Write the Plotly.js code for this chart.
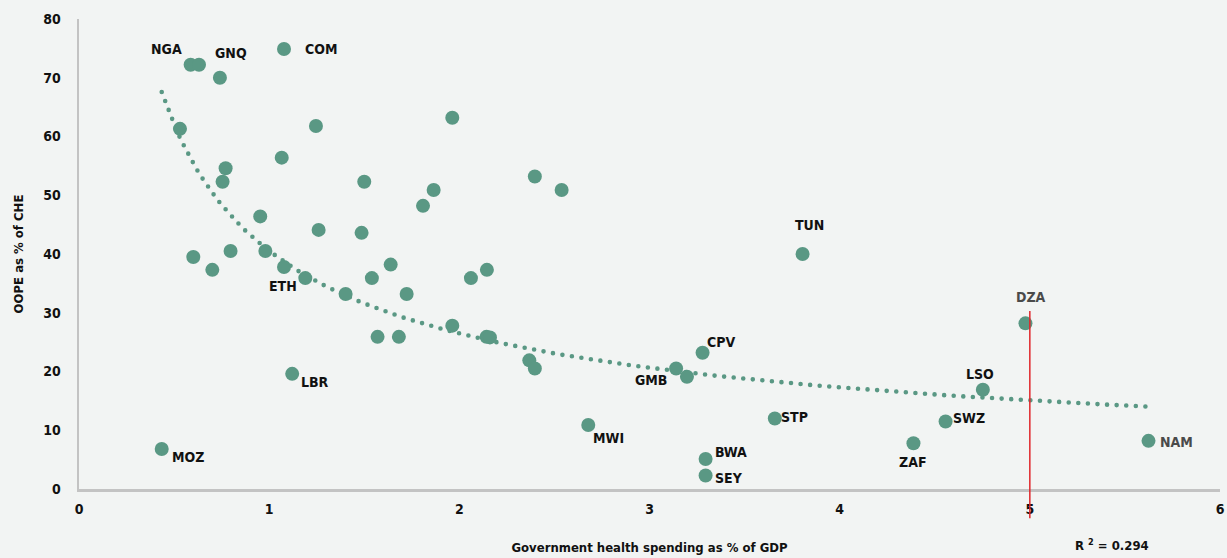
<!DOCTYPE html>
<html>
<head>
<meta charset="utf-8">
<script src="https://cdn.plot.ly/plotly-3.0.1.min.js"></script>
<style>
  html, body { margin: 0; padding: 0; background: #f2f4f3; }
  #chart { width: 1227px; height: 558px; }
</style>
</head>
<body>
<div id="chart"></div>
<script>
// Country codes (empty string = point drawn without a label)
const countries = [
  "NGA", "GNQ", "COM", "ETH", "LBR", "MOZ", "MWI", "STP", "BWA", "SEY",
  "CPV", "GMB", "TUN", "DZA", "LSO", "SWZ", "ZAF", "NAM",
  "", "", "", "", "", "", "", "", "", "", "", "", "", "", "", "", "",
  "", "", "", "", "", "", "", "", "", "", "", "", "", "", "", "", ""
];
// Government health spending as % of GDP
const govHealthSpending = [
  0.587, 0.741, 1.078, 1.078, 1.121, 0.435, 2.678, 3.659, 3.295, 3.295,
  3.279, 3.140, 3.805, 4.977, 4.753, 4.557, 4.388, 5.624,
  0.631, 0.531, 1.246, 1.963, 1.066, 0.771, 0.755, 1.500, 2.397, 2.538,
  1.865, 1.809, 0.953, 1.260, 1.486, 0.601, 0.701, 0.797, 0.980, 1.190,
  1.402, 1.540, 1.639, 1.723, 2.061, 2.145, 1.570, 1.682, 1.963, 2.143,
  2.161, 2.368, 2.397, 3.197
];
// Out-of-pocket expenditure as % of current health expenditure
const oopeShare = [
  72.2, 70.0, 74.9, 37.8, 19.6, 6.8, 10.9, 12.0, 5.1, 2.3,
  23.2, 20.5, 40.0, 28.2, 16.9, 11.5, 7.8, 8.2,
  72.2, 61.3, 61.8, 63.2, 56.4, 54.6, 52.3, 52.3, 53.2, 50.9,
  50.9, 48.2, 46.4, 44.1, 43.6, 39.5, 37.3, 40.5, 40.5, 35.9,
  33.2, 35.9, 38.2, 33.2, 35.9, 37.3, 25.9, 25.9, 27.8, 25.9,
  25.8, 21.9, 20.5, 19.1
];
const xTicks = [0, 1, 2, 3, 4, 5, 6];
const yTicks = [0, 10, 20, 30, 40, 50, 60, 70, 80];
const rSquaredText = "R <sup>2</sup> = 0.294";
const markerCountry = "DZA";

// Label placement around each marker, in pixels (dx right, dy up)
const labelOffsets = {
  NGA: [-24, 16], GNQ: [11, 25], COM: [37, 0], ETH: [-1, -19],
  LBR: [23, -8], MOZ: [26, -8], MWI: [20, -13], STP: [20, 2],
  BWA: [25, 7], SEY: [23, -3], CPV: [18, 11], GMB: [-25, -11],
  TUN: [7, 29], DZA: [6, 26], LSO: [-3, 16], SWZ: [23, 3],
  ZAF: [0, -19], NAM: [28, -1]
};
const greyLabels = { DZA: true, NAM: true };

// Power-law trendline (least squares on log-log values)
function powerFit(xs, ys) {
  const lx = xs.map(Math.log), ly = ys.map(Math.log);
  const n = lx.length;
  const mx = lx.reduce((a, b) => a + b, 0) / n;
  const my = ly.reduce((a, b) => a + b, 0) / n;
  let sxy = 0, sxx = 0;
  for (let i = 0; i < n; i++) { sxy += (lx[i] - mx) * (ly[i] - my); sxx += (lx[i] - mx) ** 2; }
  const b = sxy / sxx;
  const a = Math.exp(my - b * mx);
  return { a, b };
}
const fit = powerFit(govHealthSpending, oopeShare);
const xMin = Math.min(...govHealthSpending), xMax = Math.max(...govHealthSpending);
const trendX = [], trendY = [];
for (let i = 0; i <= 200; i++) {
  const xv = xMin + (xMax - xMin) * i / 200;
  trendX.push(xv);
  trendY.push(fit.a * Math.pow(xv, fit.b));
}

const FONT = "Liberation Sans Narrow, DejaVu Sans Condensed, Arial Narrow, sans-serif";
const TEAL = "#5a9884";

const traces = [
  {
    x: trendX, y: trendY, type: "scatter", mode: "lines",
    line: { color: TEAL, width: 4.6 }, hoverinfo: "skip", showlegend: false
  },
  {
    x: govHealthSpending, y: oopeShare, type: "scatter", mode: "markers",
    marker: { color: TEAL, size: 14, line: { width: 0 } }, hoverinfo: "skip", showlegend: false
  }
];

const annotations = [];
countries.forEach((c, i) => {
  if (!c) return;
  const off = labelOffsets[c] || [0, 0];
  annotations.push({
    x: govHealthSpending[i], y: oopeShare[i], xref: "x", yref: "y",
    text: c, showarrow: false, xanchor: "center", yanchor: "middle",
    xshift: off[0], yshift: off[1],
    font: { family: FONT, size: 14, weight: 700, color: greyLabels[c] ? "#4a4a4a" : "#111111" }
  });
});
annotations.push({
  x: 0.905, y: -0.12, xref: "paper", yref: "paper", text: rSquaredText,
  showarrow: false, xanchor: "center", yanchor: "middle",
  font: { family: FONT, size: 13, weight: 700, color: "#111111" }
});

const markerIdx = countries.indexOf(markerCountry);
const shapes = [{
  type: "line", xref: "x", yref: "paper",
  x0: govHealthSpending[markerIdx] + 0.023, x1: govHealthSpending[markerIdx] + 0.023,
  y0: -0.062, y1: 30.3 / 80,
  line: { color: "#e0262b", width: 1.5 }, layer: "above"
}];

const layout = {
  width: 1227, height: 558,
  margin: { l: 79, r: 7, t: 19, b: 69 },
  paper_bgcolor: "#f2f4f3", plot_bgcolor: "#f2f4f3",
  font: { family: FONT, size: 14, weight: 700, color: "#111111" },
  showlegend: false,
  xaxis: {
    range: [0, 6], tickvals: xTicks, ticktext: xTicks.map(String),
    showgrid: false, zeroline: false, showline: true, linecolor: "#c3c3c3", linewidth: 2.5,
    ticks: "", ticklabelstandoff: 6,
    tickfont: { family: FONT, size: 14, weight: 700, color: "#111111" },
    title: { text: "Government health spending as % of GDP", standoff: 27,
             font: { family: FONT, size: 13, weight: 700, color: "#111111" } }
  },
  yaxis: {
    range: [0, 80], tickvals: yTicks, ticktext: yTicks.map(String),
    showgrid: false, zeroline: false, showline: true, linecolor: "#c3c3c3", linewidth: 2.5,
    ticks: "", ticklabelstandoff: 13,
    tickfont: { family: FONT, size: 14, weight: 700, color: "#111111" },
    title: { text: "OOPE as % of CHE", standoff: 17,
             font: { family: FONT, size: 13, weight: 700, color: "#111111" } }
  },
  annotations: annotations,
  shapes: shapes
};

Plotly.newPlot("chart", traces, layout, { staticPlot: true, displayModeBar: false }).then(() => {
  // turn the trendline into a row of round dots
  document.querySelectorAll("#chart .scatterlayer path.js-line").forEach(p => {
    p.style.strokeDasharray = "0 9.6";
    p.style.strokeLinecap = "round";
  });
});
</script>
</body>
</html>
